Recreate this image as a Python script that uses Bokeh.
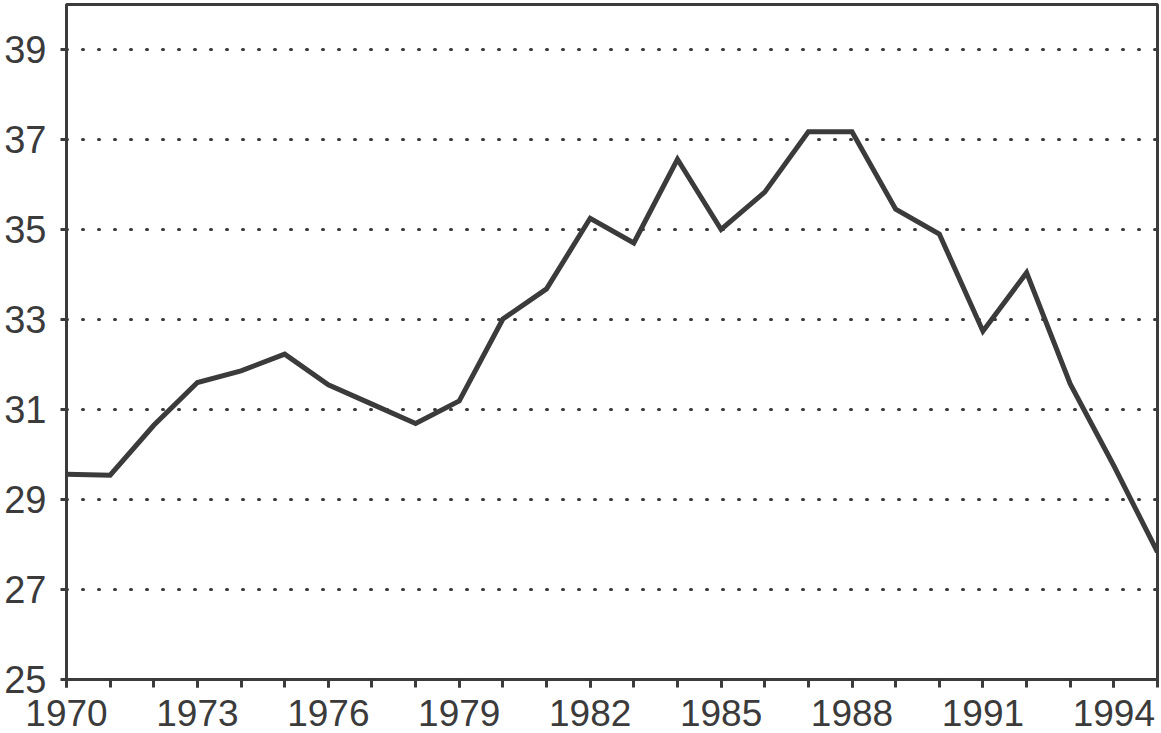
from bokeh.plotting import figure
from bokeh.models import FixedTicker, Range1d
from bokeh.embed import file_html
from bokeh.resources import INLINE

years = list(range(1970, 1996))
values = [29.56, 29.54, 30.65, 31.60, 31.86, 32.23, 31.55, 31.12, 30.69, 31.19,
          33.01, 33.68, 35.25, 34.70, 36.56, 35.00, 35.83, 37.17, 37.17, 35.45,
          34.90, 32.74, 34.04, 31.57, 29.75, 27.83]
x_tick_labels = list(range(1970, 1995, 3))
y_ticks = list(range(25, 40, 2))

FONT = "Liberation Sans"
INK = "#3b3b3b"

p = figure(frame_width=1091, frame_height=675, output_backend="svg", toolbar_location=None,
           x_range=Range1d(1970, 1995), y_range=Range1d(25, 40),
           min_border_left=66, min_border_right=3, min_border_top=4, min_border_bottom=54)

p.line(years, values, line_color=INK, line_width=5, line_join="miter")

p.outline_line_color = INK
p.outline_line_width = 3
p.background_fill_color = "white"
p.border_fill_color = "white"

# x axis
xa = p.xaxis[0]
xa.ticker = FixedTicker(ticks=x_tick_labels, minor_ticks=years)
xa.axis_line_color = INK
xa.axis_line_width = 3
xa.major_tick_line_color = INK
xa.minor_tick_line_color = INK
xa.major_tick_line_width = 3
xa.minor_tick_line_width = 3
xa.major_tick_in = 0
xa.major_tick_out = 8
xa.minor_tick_in = 0
xa.minor_tick_out = 8
xa.major_label_standoff = 12
xa.major_label_text_font = FONT
xa.major_label_text_font_size = "37px"
xa.major_label_text_color = INK

# y axis
ya = p.yaxis[0]
ya.ticker = FixedTicker(ticks=y_ticks, minor_ticks=[])
ya.axis_line_color = INK
ya.axis_line_width = 3
ya.major_tick_line_color = INK
ya.major_tick_line_width = 3
ya.major_tick_in = 0
ya.major_tick_out = 6
ya.minor_tick_line_color = None
ya.major_label_standoff = 14
ya.major_label_text_font = FONT
ya.major_label_text_font_size = "38px"
ya.major_label_text_color = INK

# grids
p.xgrid.grid_line_color = None
p.ygrid.grid_line_color = INK
p.ygrid.grid_line_width = 3
p.ygrid.grid_line_dash = "1 15"
p.ygrid.grid_line_cap = "round"
p.ygrid.ticker = FixedTicker(ticks=y_ticks[1:])

open("out.html", "w").write(file_html(p, INLINE))
